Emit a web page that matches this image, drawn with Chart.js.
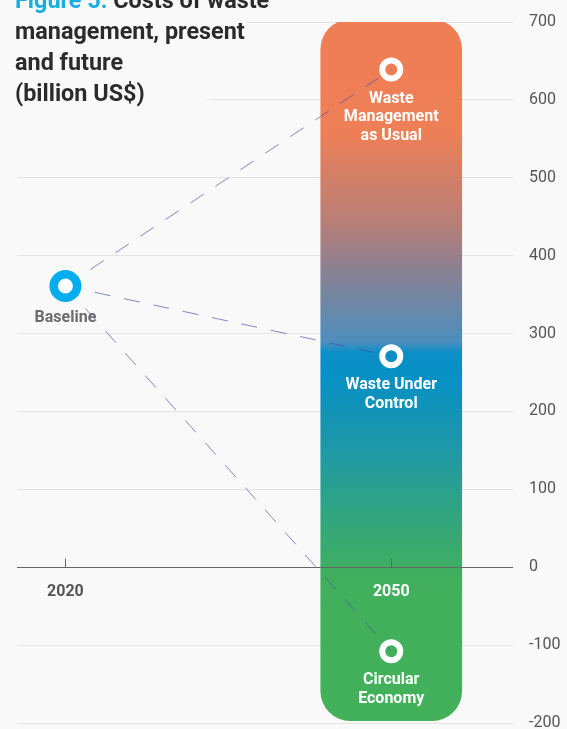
<!DOCTYPE html>
<html>
<head>
<meta charset="utf-8">
<script src="https://cdn.jsdelivr.net/npm/chart.js@4/dist/chart.umd.min.js"></script>
<style>
  html, body { margin: 0; padding: 0; background: #f9f9f9; }
  #wrap { position: relative; width: 567px; height: 729px; overflow: hidden; }
  #title {
    position: absolute; left: 0; top: -15.5px; padding-left: 15px; width: 215px;
    font: bold 23.4px Roboto, sans-serif; line-height: 31px; color: #2b2b2b;
    white-space: nowrap; z-index: 2;
    background: linear-gradient(to right, #f9f9f9 202px, rgba(249,249,249,0) 217px);
  }
  #title .fig { color: #1aade4; }
  #title .l2 { background: #f9f9f9; padding-right: 2px; }
</style>
</head>
<body>
<div id="wrap">
  <div id="title"><span class="fig">Figure 5.</span> Costs of waste<br><span class="l2">management, present</span><br>and future<br>(billion US$)</div>
  <canvas id="chart" width="567" height="729"></canvas>
</div>
<script>
// 数据
var categories = ['2020', '2050'];
var years = [2020, 2050];
var baselineValue = 361;
var scenarioValues = [639, 271, -108];
var scenarioLabels = [['Waste', 'Management', 'as Usual'], ['Waste Under', 'Control'], ['Circular', 'Economy']];
var barRange = [-197, 703];
var yTicks = [700, 600, 500, 400, 300, 200, 100, 0, -100, -200];

// 渐变柱
function barGradient(c) {
    var chart = c.chart;
    if (!chart.chartArea) return '#ef7f55';
    var y = chart.scales.y;
    var top = y.getPixelForValue(barRange[1]);
    var bot = y.getPixelForValue(barRange[0]);
    var g = chart.ctx.createLinearGradient(0, top, 0, bot);
    g.addColorStop(0, '#f07e55');
    g.addColorStop(0.16, '#ee7f57');
    g.addColorStop(0.29, '#b77f77');
    g.addColorStop(0.35, '#8f8090');
    g.addColorStop(0.41, '#6b88a8');
    g.addColorStop(0.46, '#4c8ebe');
    g.addColorStop(0.475, '#0a8fc6');
    g.addColorStop(0.51, '#0690c4');
    g.addColorStop(0.61, '#1e98a8');
    g.addColorStop(0.71, '#32a67e');
    g.addColorStop(0.80, '#42af5c');
    g.addColorStop(1, '#43b05a');
    return g;
}

var datasets = [{
    type: 'bar',
    data: [{x: years[1], y: barRange}],
    backgroundColor: barGradient,
    barThickness: 141,
    borderRadius: 30,
    borderSkipped: false,
    order: 5
}];

scenarioValues.forEach(function (v) {
    datasets.push({
        type: 'line',
        data: [{x: years[0], y: baselineValue}, {x: years[1], y: v}],
        borderColor: 'rgba(70,70,170,0.65)',
        borderWidth: 1,
        borderDash: [16, 14],
        pointRadius: 0,
        order: 3
    });
});

datasets.push({
    type: 'line',
    showLine: false,
    data: scenarioValues.map(function (v) { return {x: years[1], y: v}; }),
    pointRadius: 9,
    pointBorderWidth: 6,
    pointBorderColor: '#fff',
    pointBackgroundColor: 'rgba(0,0,0,0)',
    order: 1
});

datasets.push({
    type: 'line',
    showLine: false,
    data: [{x: years[0], y: baselineValue}],
    pointRadius: 11.75,
    pointBorderWidth: 8.5,
    pointBorderColor: '#00aeef',
    pointBackgroundColor: '#fff',
    order: 1
});

// 零线、x轴标签和点标签
var labelPlugin = {
    id: 'pointLabels',
    afterDatasetsDraw: function (chart) {
        var ctx = chart.ctx, x = chart.scales.x, y = chart.scales.y, area = chart.chartArea;
        var py = Math.round(y.getPixelForValue(0)) + 0.5;
        ctx.save();
        ctx.strokeStyle = '#666';
        ctx.lineWidth = 1;
        ctx.beginPath();
        ctx.moveTo(area.left, py);
        ctx.lineTo(area.right, py);
        years.forEach(function (v) {
            var px = Math.round(x.getPixelForValue(v)) + 0.5;
            ctx.moveTo(px, py);
            ctx.lineTo(px, py - 9);
        });
        ctx.stroke();

        ctx.font = 'bold 16px Roboto, sans-serif';
        ctx.textAlign = 'center';
        ctx.textBaseline = 'middle';
        years.forEach(function (v, i) {
            ctx.fillStyle = i === 1 ? '#fff' : '#555';
            ctx.fillText(categories[i], x.getPixelForValue(v), py + 24);
        });
        ctx.fillStyle = '#6b6b6b';
        ctx.fillText('Baseline', x.getPixelForValue(years[0]), y.getPixelForValue(baselineValue) + 32);
        ctx.fillStyle = '#fff';
        scenarioLabels.forEach(function (lines, i) {
            lines.forEach(function (t, j) {
                ctx.fillText(t, x.getPixelForValue(years[1]), y.getPixelForValue(scenarioValues[i]) + 29 + j * 18.5);
            });
        });
        ctx.restore();
    }
};

var ctx = document.getElementById('chart').getContext('2d');
new Chart(ctx, {
    data: {datasets: datasets},
    plugins: [labelPlugin],
    options: {
        responsive: false,
        animation: false,
        layout: {autoPadding: false, padding: {left: 17, right: 0, top: 22, bottom: 6}},
        plugins: {legend: {display: false}, tooltip: {enabled: false}},
        scales: {
            x: {
                type: 'linear',
                display: false,
                offset: false,
                min: 2015.54,
                max: 2061.21
            },
            y: {
                position: 'right',
                min: -200,
                max: 700,
                grid: {color: '#e4e4e4', drawTicks: false},
                border: {display: false},
                afterBuildTicks: function (axis) {
                    axis.ticks = yTicks.map(function (v) { return {value: v}; });
                },
                afterFit: function (axis) {
                    axis.width = 54;
                    axis.paddingTop = 0;
                    axis.paddingBottom = 0;
                },
                ticks: {
                    padding: 16,
                    font: {family: 'Roboto', size: 16},
                    color: '#555'
                }
            }
        }
    }
});
</script>
</body>
</html>
